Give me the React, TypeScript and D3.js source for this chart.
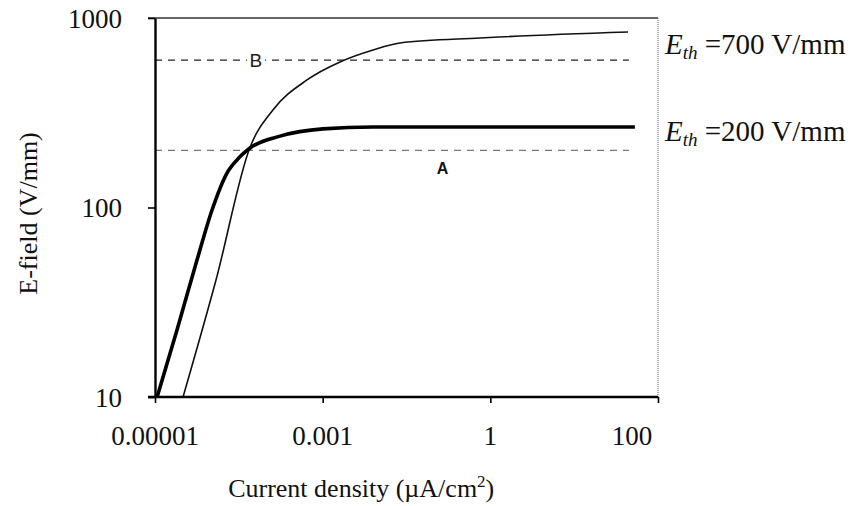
import * as d3 from 'd3';
import { useEffect, useRef } from 'react';

// x tick labels (the axis is spaced evenly between these, as in the figure)
const xTicks = [0.00001, 0.001, 1, 100];
const xTickLabels = ["0.00001", "0.001", "1", "100"];
const yTicks = [10, 100, 1000];

// curve A (thick) : current density (uA/cm2), E-field (V/mm)
const aJ = [1.06e-5, 1.83e-5, 3.17e-5, 4.79e-5, 7.22e-5, 1.03e-4, 1.36e-4, 3.1e-4, 1.01e-3, 7.95e-3, 53];
const aE = [10, 22.6, 52.8, 97, 152, 185, 206, 238, 260, 266, 266];

// curve B (thin)
const bJ = [2.16e-5, 5.34e-5, 1.36e-4, 2.55e-4, 6.5e-4, 2.04e-3, 7.95e-3, 0.0242, 0.654, 43.9];
const bE = [10, 41.4, 208, 327, 471, 586, 678, 738, 784, 843];

// threshold lines
const thresholdA = 200;
const thresholdB = 600;
const thresholdEnd = 45;

function App() {
    const svgRef = useRef(null);

    useEffect(() => {
        const svg = d3.select(svgRef.current);
        svg.selectAll('*').remove();

        const margin = { top: 18, right: 193, bottom: 109, left: 155 };
        const width = 851 - margin.left - margin.right;
        const height = 506 - margin.top - margin.bottom;
        const serif = "'Liberation Serif', 'Times New Roman', serif";
        const sans = "'Liberation Sans', Arial, sans-serif";

        const g = svg.append("g")
            .attr("transform", `translate(${margin.left}, ${margin.top})`);

        const xs = d3.scaleLinear()
            .domain(xTicks.map(Math.log10))
            .range([0, width / 3, 2 * width / 3, width]);
        const x = v => xs(Math.log10(v));

        const y = d3.scaleLog()
            .domain([10, 1000])
            .range([height, 0]);

        // threshold dashed lines
        g.append("line")
            .attr("x1", 0).attr("x2", x(thresholdEnd))
            .attr("y1", y(thresholdB)).attr("y2", y(thresholdB))
            .attr("stroke", "#222").attr("stroke-width", 1.3)
            .attr("stroke-dasharray", "7,6");
        g.append("line")
            .attr("x1", 0).attr("x2", x(thresholdEnd))
            .attr("y1", y(thresholdA)).attr("y2", y(thresholdA))
            .attr("stroke", "#777").attr("stroke-width", 1.3)
            .attr("stroke-dasharray", "7,6");

        const line = d3.line()
            .x(d => x(d[0]))
            .y(d => y(d[1]))
            .curve(d3.curveMonotoneX);

        g.append("path")
            .datum(bJ.map((v, i) => [v, bE[i]]))
            .attr("d", line)
            .attr("fill", "none")
            .attr("stroke", "#111")
            .attr("stroke-width", 1.6);

        g.append("path")
            .datum(aJ.map((v, i) => [v, aE[i]]))
            .attr("d", line)
            .attr("fill", "none")
            .attr("stroke", "#000")
            .attr("stroke-width", 3.6);

        // frame: top solid, right dotted
        g.append("line")
            .attr("x1", -7).attr("x2", width).attr("y1", 0).attr("y2", 0)
            .attr("stroke", "#333").attr("stroke-width", 1.6);
        g.append("line")
            .attr("x1", width).attr("x2", width).attr("y1", 0).attr("y2", height)
            .attr("stroke", "#777").attr("stroke-width", 1.2)
            .attr("stroke-dasharray", "1,1");

        // axes
        const xAxis = g.append("g")
            .attr("transform", `translate(0, ${height})`)
            .call(d3.axisBottom(xs).tickValues(xTicks.map(Math.log10)).tickSize(6).tickSizeOuter(0).tickFormat(() => ""));
        xAxis.select(".domain").attr("stroke-width", 2.4).attr("d", `M-7,0H${width}`);
        xAxis.selectAll(".tick line").attr("stroke-width", 1.6);

        xAxis.selectAll(".tick-label")
            .data(xTicks)
            .enter().append("text")
            .attr("x", (d, i) => x(d) - (i === xTicks.length - 1 ? 26 : 0))
            .attr("y", 48)
            .attr("text-anchor", "middle")
            .attr("font-family", serif)
            .attr("font-size", 27)
            .attr("fill", "#111")
            .text((d, i) => xTickLabels[i]);

        const yAxis = g.append("g")
            .call(d3.axisLeft(y).tickValues(yTicks).tickSize(7).tickSizeOuter(0).tickFormat(d3.format("d")));
        yAxis.select(".domain").attr("stroke-width", 2.4);
        yAxis.selectAll(".tick line").attr("stroke-width", 1.6);
        yAxis.selectAll(".tick text")
            .attr("x", -33)
            .attr("dy", "0.35em")
            .attr("font-family", serif)
            .attr("font-size", 27)
            .attr("fill", "#111");

        // axis titles
        const xTitle = svg.append("text")
            .attr("x", margin.left + width * 0.41)
            .attr("y", 497)
            .attr("text-anchor", "middle")
            .attr("font-family", serif)
            .attr("font-size", 26)
            .attr("fill", "#111");
        xTitle.append("tspan").text("Current density (µA/cm");
        xTitle.append("tspan").attr("dy", -10).attr("font-size", 17).text("2");
        xTitle.append("tspan").attr("dy", 10).text(")");

        svg.append("text")
            .attr("transform", `translate(37, ${margin.top + y(93)}) rotate(-90)`)
            .attr("text-anchor", "middle")
            .attr("font-family", serif)
            .attr("font-size", 26)
            .attr("fill", "#111")
            .text("E-field (V/mm)");

        // curve letters
        g.append("rect")
            .attr("x", x(1.6e-4) - 9).attr("y", y(thresholdB) - 10)
            .attr("width", 18).attr("height", 20)
            .attr("fill", "white");
        g.append("text")
            .attr("x", x(1.6e-4))
            .attr("y", y(thresholdB))
            .attr("dy", "0.36em")
            .attr("text-anchor", "middle")
            .attr("font-family", sans)
            .attr("font-size", 19)
            .attr("fill", "#222")
            .text("B");
        g.append("text")
            .attr("x", x(0.14))
            .attr("y", y(thresholdA) + 24)
            .attr("text-anchor", "middle")
            .attr("font-family", sans)
            .attr("font-weight", "bold")
            .attr("font-size", 16)
            .attr("fill", "#111")
            .text("A");

        // threshold labels on the right
        [[700, thresholdB], [200, thresholdA]].forEach(([val, t], i) => {
            const lab = svg.append("text")
                .attr("x", margin.left + width + 7)
                .attr("y", margin.top + y(t) + (i === 0 ? -6 : -9))
                .attr("font-family", serif)
                .attr("font-size", 29)
                .attr("fill", "#111");
            lab.append("tspan").attr("font-style", "italic").text("E");
            lab.append("tspan").attr("font-style", "italic").attr("font-size", 19).attr("dy", 5).text("th");
            lab.append("tspan").attr("dy", -5).text(` =${val} V/mm`);
        });

        return () => {
            d3.select(svgRef.current).selectAll("*").remove();
        };
    }, []);

    return <svg ref={svgRef} width={851} height={506} style={{ position: 'absolute', left: 0, top: 0, background: 'white' }}></svg>;
}

export default App;
